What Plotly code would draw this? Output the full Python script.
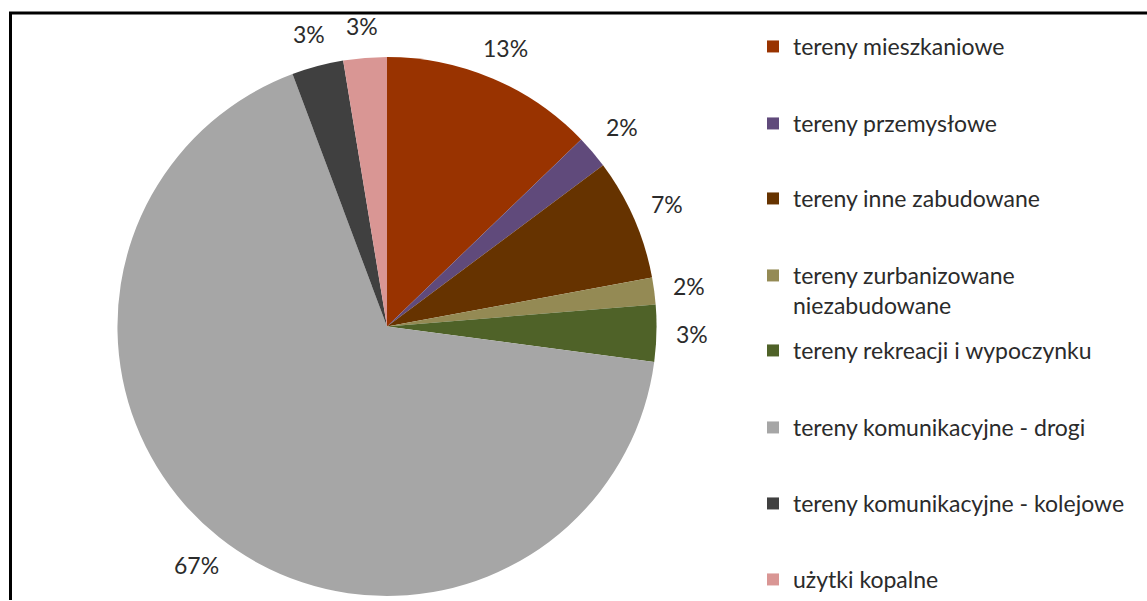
import math
import plotly.graph_objects as go

# ---- data ----
categories = [
    "tereny mieszkaniowe",
    "tereny przemysłowe",
    "tereny inne zabudowane",
    "tereny zurbanizowane<br>niezabudowane",
    "tereny rekreacji i wypoczynku",
    "tereny komunikacyjne - drogi",
    "tereny komunikacyjne - kolejowe",
    "użytki kopalne",
]
values = [12.8, 2.0, 7.3, 1.6, 3.4, 67.2, 3.1, 2.6]
colors = ["#993300", "#604A7B", "#663300", "#948A54", "#4F6228", "#A6A6A6", "#404040", "#D99694"]

W, H = 1147, 601
FONT = "Lato"
TXT = "#2b2b2b"
FS = 23

fig = go.Figure()

# pie centre (387, 327), radius 270 px
cx, cy, r = 387, 327, 270
fig.add_trace(go.Pie(
    labels=categories,
    values=values,
    sort=False,
    direction="clockwise",
    rotation=0,
    marker=dict(colors=colors, line=dict(width=0)),
    textinfo="none",
    showlegend=False,
    domain=dict(x=[(cx - r) / W, (cx + r) / W], y=[1 - (cy + r) / H, 1 - (cy - r) / H]),
    hoverinfo="label+percent",
))

# percentage labels placed just outside each slice (derived from the values)
total = sum(values)
annotations = []
cum = 0.0
label_r = 292
for v in values:
    mid = (cum + v / 2) / total * 2 * math.pi
    cum += v
    sx, cy_ = math.sin(mid), -math.cos(mid)
    txt = f"{round(v / total * 100)}%"
    hw = 0.28 * FS * len(txt)
    hh = 0.45 * FS
    ext = min(hw / max(abs(sx), 1e-6), hh / max(abs(cy_), 1e-6))
    d = label_r + ext
    px = cx + d * sx
    py = cy + d * cy_
    annotations.append(dict(
        x=px / W, y=1 - py / H, xref="paper", yref="paper",
        text=txt, showarrow=False, xanchor="center", yanchor="middle",
        font=dict(family=FONT, size=FS, color=TXT),
    ))

# legend entries as separate legends so their positions match the reference
legend_y = [46, 123, 198, 275, 350, 427, 503, 580]
layout_legends = {}
for i, (cat, col) in enumerate(zip(categories, colors)):
    key = "legend" if i == 0 else f"legend{i + 1}"
    fig.add_trace(go.Scatter(
        x=[None], y=[None], mode="markers", name=cat,
        marker=dict(symbol="square", size=12, color=col),
        legend=key, showlegend=True, hoverinfo="skip",
    ))
    layout_legends[key] = dict(
        x=753 / W, xanchor="left",
        y=1 - (legend_y[i] - 21) / H, yanchor="top",
        valign="top",
        font=dict(family=FONT, size=FS, color=TXT),
        bgcolor="rgba(0,0,0,0)",
        itemclick=False, itemdoubleclick=False,
    )

fig.update_layout(
    width=W, height=H,
    margin=dict(l=0, r=0, t=0, b=0),
    paper_bgcolor="white",
    plot_bgcolor="white",
    xaxis=dict(visible=False),
    yaxis=dict(visible=False),
    annotations=annotations,
    shapes=[
        dict(type="line", xref="paper", yref="paper", x0=9 / W, x1=1, y0=1 - 13 / H, y1=1 - 13 / H,
             line=dict(color="black", width=3)),
        dict(type="line", xref="paper", yref="paper", x0=10.5 / W, x1=10.5 / W, y0=0, y1=1 - 12 / H,
             line=dict(color="black", width=3)),
    ],
    **layout_legends,
)

fig.write_html(
    "out.html",
    config={"displayModeBar": False},
    post_script="document.body.style.margin='0';document.body.style.overflow='hidden';",
)
